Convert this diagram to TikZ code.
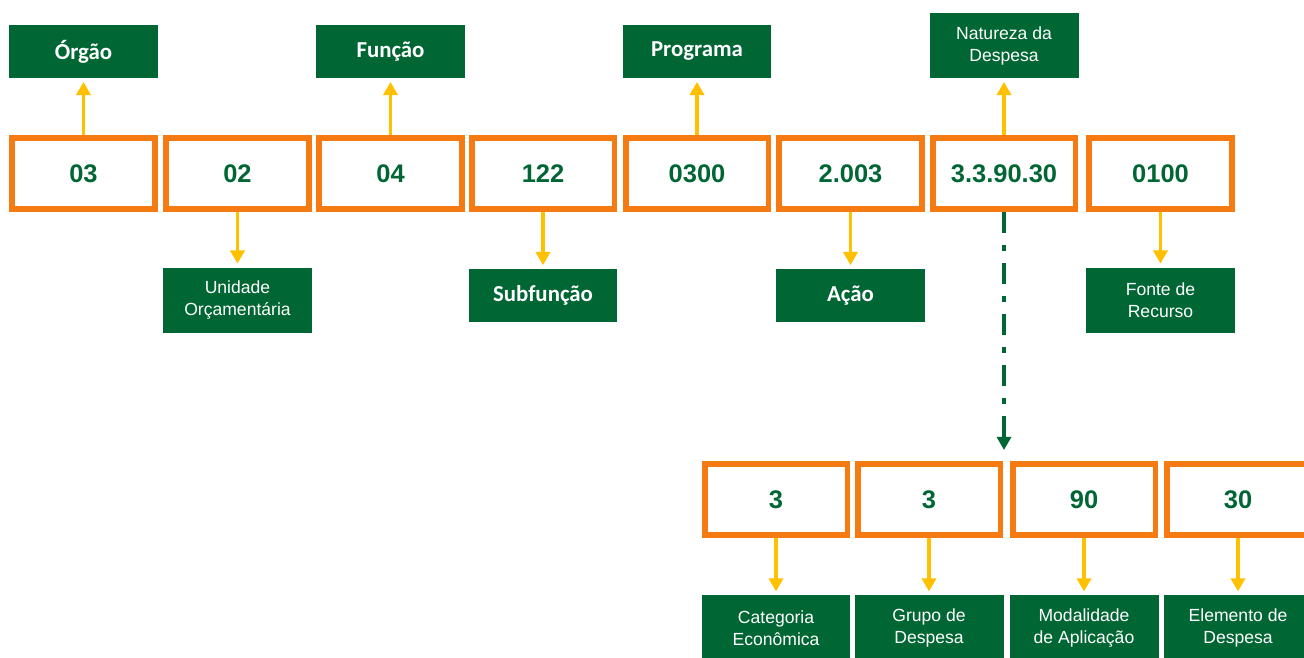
\documentclass[tikz,border=0pt]{standalone}
\usepackage{fontspec}
\setmainfont{Liberation Sans}
\newfontfamily\calibrifont{Carlito}
\usetikzlibrary{arrows.meta}
\definecolor{codegreen}{RGB}{0,102,51}
\definecolor{boxorange}{RGB}{245,122,18}
\definecolor{arrowyellow}{RGB}{255,192,0}
\tikzset{
  codebox/.style={draw=boxorange, line width=3.4pt, fill=white, minimum width=2.86cm,
    minimum height=1.42cm, inner sep=0pt, text=codegreen, font=\fontsize{14.5}{16}\selectfont\bfseries},
  labelbox/.style={fill=codegreen, text=white, minimum width=2.98cm, inner sep=0pt, align=center},
  calibrilabel/.style={labelbox, minimum height=1.06cm, font=\calibrifont\fontsize{13}{15}\selectfont\bfseries},
  arialabel/.style={labelbox, minimum height=1.3cm, font=\fontsize{10}{12.5}\selectfont},
  yarrow/.style={draw=arrowyellow, line width=2.2pt, -{Triangle[width=8pt,length=7.5pt]}, shorten >=2pt},
  splitarrow/.style={draw=codegreen, line width=2.3pt, dash pattern=on 12pt off 7pt on 3pt off 7pt,
    -{Triangle[width=8pt,length=7.5pt]}},
}

\begin{document}
\begin{tikzpicture}[x=0.02cm, y=-0.02cm]
  \useasboundingbox (0,0) rectangle (1304,657);

  % ---------- Top row: full code ----------
  \node[codebox] (orgao)    at (83.5,173.5)  {03};
  \node[codebox] (unidade)  at (237.5,173.5) {02};
  \node[codebox] (funcao)   at (390.5,173.5) {04};
  \node[codebox] (subfunc)  at (543,173.5)   {122};
  \node[codebox] (programa) at (697,173.5)   {0300};
  \node[codebox] (acao)     at (850.5,173.5) {2.003};
  \node[codebox] (natureza) at (1004,173.5)  {3.3.90.30};
  \node[codebox] (fonte)    at (1160.5,173.5){0100};

  % labels above
  \node[calibrilabel] (orgaoL)    at (83.5,51.5)  {Órgão};
  \node[calibrilabel] (funcaoL)   at (390.5,51.5) {Função};
  \node[calibrilabel] (programaL) at (697,51.5)   {Programa};
  \node[arialabel, minimum height=1.3cm] (naturezaL) at (1004,45.5) {Natureza da\\Despesa};

  % labels below
  \node[arialabel] (unidadeL) at (237.5,300) {Unidade\\Orçamentária};
  \node[calibrilabel] (subfuncL) at (543,295.5)  {Subfunção};
  \node[calibrilabel] (acaoL)    at (850.5,295.5) {Ação};
  \node[arialabel] (fonteL)   at (1160.5,300) {Fonte de\\Recurso};

  \draw[yarrow] (orgao) -- (orgaoL);
  \draw[yarrow] (funcao) -- (funcaoL);
  \draw[yarrow] (programa) -- (programaL);
  \draw[yarrow] (natureza) -- (naturezaL);
  \draw[yarrow] (unidade) -- (unidadeL);
  \draw[yarrow] (subfunc) -- (subfuncL);
  \draw[yarrow] (acao) -- (acaoL);
  \draw[yarrow] (fonte) -- (fonteL);

  % ---------- Bottom row: natureza da despesa split ----------
  \coordinate (split) at (1004,450);
  \draw[splitarrow] (natureza.south) -- (split);

  \node[codebox] (categoria)  at (776,499.5)  {3};
  \node[codebox] (grupo)      at (929,499.5)  {3};
  \node[codebox] (modalidade) at (1084,499.5) {90};
  \node[codebox] (elemento)   at (1238,499.5) {30};

  \node[arialabel, anchor=north] (categoriaL)  at (776,595)  {Categoria\\Econômica};
  \node[arialabel, anchor=north] (grupoL)      at (929,595)  {Grupo de\\Despesa};
  \node[arialabel, anchor=north] (modalidadeL) at (1084,595) {Modalidade\\de Aplicação};
  \node[arialabel, anchor=north] (elementoL)   at (1238,595) {Elemento de\\Despesa};

  \draw[yarrow] (categoria) -- (categoriaL);
  \draw[yarrow] (grupo) -- (grupoL);
  \draw[yarrow] (modalidade) -- (modalidadeL);
  \draw[yarrow] (elemento) -- (elementoL);

\end{tikzpicture}
\end{document}
